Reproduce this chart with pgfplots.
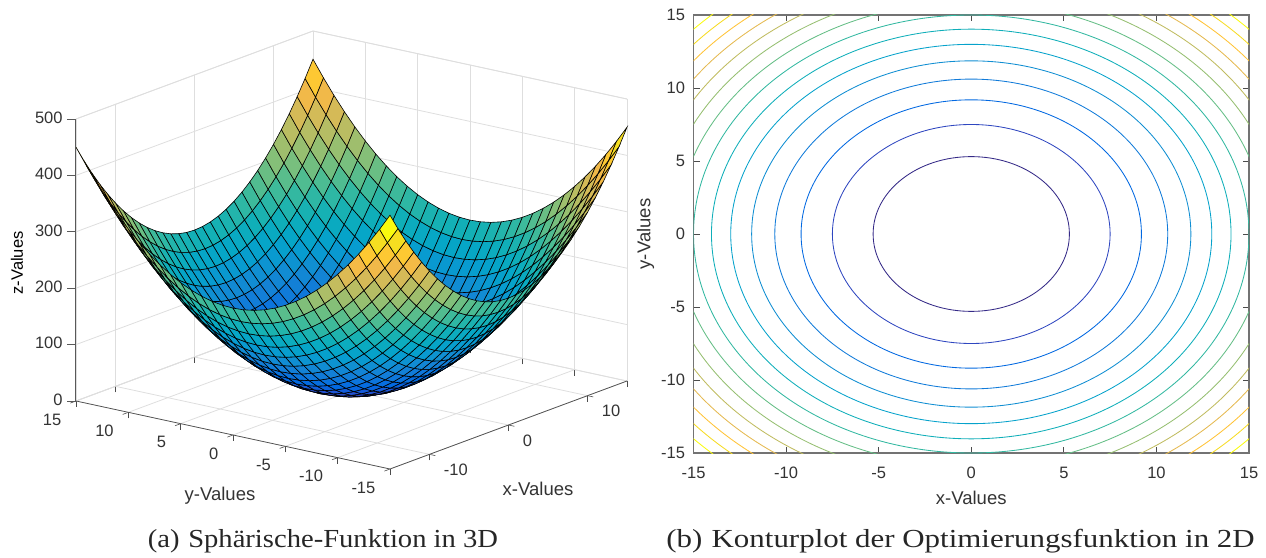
\documentclass[border=0pt]{standalone}
\usepackage{pgfplots}
\pgfplotsset{compat=1.18}
\usepackage{fontspec}
\setmainfont{Liberation Sans}
\newfontfamily\capfont{Liberation Serif}
\pgfplotsset{colormap={parula}{rgb=(.2081,.1663,.5292) rgb=(.2081,.2386,.6771) rgb=(.1253,.3242,.8303) rgb=(.0060,.4086,.8828) rgb=(.0498,.4586,.8641) rgb=(.0779,.5040,.8384) rgb=(.0641,.5570,.8240) rgb=(.0265,.6137,.8135) rgb=(.0228,.6535,.7768) rgb=(.0590,.6838,.7254) rgb=(.1453,.7098,.6646) rgb=(.2586,.7317,.5954) rgb=(.3953,.7459,.5244) rgb=(.5300,.7491,.4661) rgb=(.6473,.7456,.4188) rgb=(.7525,.7384,.3768) rgb=(.8507,.7299,.3360) rgb=(.9450,.7261,.2886) rgb=(.9990,.7653,.2164) rgb=(.9789,.8271,.1633) rgb=(.9589,.8949,.1132) rgb=(.9763,.9831,.0538)}}
\definecolor{c1}{rgb}{.2081,.1663,.5292}
\definecolor{c2}{rgb}{.183,.278,.754}
\definecolor{c3}{rgb}{.0060,.4086,.8828}
\definecolor{c4}{rgb}{.068,.481,.851}
\definecolor{c5}{rgb}{.0641,.5570,.8240}
\definecolor{c6}{rgb}{.023,.635,.797}
\definecolor{c7}{rgb}{.0590,.6838,.7254}
\definecolor{c8}{rgb}{.199,.721,.631}
\definecolor{c9}{rgb}{.3953,.7459,.5244}
\definecolor{c10}{rgb}{.590,.748,.442}
\definecolor{c11}{rgb}{.7525,.7384,.3768}
\definecolor{c12}{rgb}{.898,.7266,.314}
\definecolor{c13}{rgb}{.9990,.7653,.2164}
\definecolor{c14}{rgb}{.966,.859,.139}
\definecolor{c15}{rgb}{.9763,.9831,.0538}
\definecolor{txt}{gray}{.2}
\begin{document}
\begin{tikzpicture}[x=1pt,y=1pt]
\path[use as bounding box] (0,0) rectangle (1266,557);
\begin{axis}[
  at={(351.5pt,166pt)}, anchor=origin,
  x={(7.9pt,2.933pt)}, y={(-10.467pt,2.267pt)}, z={(0pt,0.564pt)},
  xmin=-15,xmax=15,ymin=-15,ymax=15,zmin=0,zmax=500,
  clip=false,
  font=\fontsize{16.5}{18}\selectfont,
  /pgf/number format/assume math mode=true,
  xtick={-10,0,10}, ytick={-15,-10,-5,0,5,10,15}, ztick={0,100,200,300,400,500},
  grid=major, grid style={black!13,line width=.8pt},
  axis line style={black!13,line width=.8pt},
  tick style={black!70,line width=.6pt},
  ztick style={draw=none},
  tick align=outside,
  tick pos=left,
  major tick length=6pt,
  ticklabel style={text=txt},
  xticklabel style={anchor=west,xshift=5pt,yshift=-14.3pt},
  yticklabel style={anchor=east,xshift=-5.5pt,yshift=-16.5pt},
  zticklabel style={anchor=east,xshift=-4pt},
  xlabel={x-Values}, ylabel={y-Values}, zlabel={z-Values},
  label style={text=txt,font=\fontsize{18.5}{20}\selectfont},
  xlabel style={at={(axis cs:-12.4,-27.18,0)},anchor=center,rotate=0},
  ylabel style={at={(axis cs:-28.74,-9.13,0)},anchor=center,rotate=0},
  every axis z label/.style={at={(axis cs:11.96,40.98,0)},anchor=center,rotate=90},
]
\addplot3[surf, shader=flat corner, draw=black, line width=.6pt, z buffer=sort, mesh/cols=31, point meta=z, point meta min=0, point meta max=450] coordinates {
(-15,-15,450)(-14,-15,421)(-13,-15,394)(-12,-15,369)(-11,-15,346)(-10,-15,325)(-9,-15,306)(-8,-15,289)(-7,-15,274)(-6,-15,261)(-5,-15,250)(-4,-15,241)(-3,-15,234)(-2,-15,229)(-1,-15,226)(0,-15,225)(1,-15,226)(2,-15,229)(3,-15,234)(4,-15,241)(5,-15,250)(6,-15,261)(7,-15,274)(8,-15,289)(9,-15,306)(10,-15,325)(11,-15,346)(12,-15,369)(13,-15,394)(14,-15,421)(15,-15,450)
(-15,-14,421)(-14,-14,392)(-13,-14,365)(-12,-14,340)(-11,-14,317)(-10,-14,296)(-9,-14,277)(-8,-14,260)(-7,-14,245)(-6,-14,232)(-5,-14,221)(-4,-14,212)(-3,-14,205)(-2,-14,200)(-1,-14,197)(0,-14,196)(1,-14,197)(2,-14,200)(3,-14,205)(4,-14,212)(5,-14,221)(6,-14,232)(7,-14,245)(8,-14,260)(9,-14,277)(10,-14,296)(11,-14,317)(12,-14,340)(13,-14,365)(14,-14,392)(15,-14,421)
(-15,-13,394)(-14,-13,365)(-13,-13,338)(-12,-13,313)(-11,-13,290)(-10,-13,269)(-9,-13,250)(-8,-13,233)(-7,-13,218)(-6,-13,205)(-5,-13,194)(-4,-13,185)(-3,-13,178)(-2,-13,173)(-1,-13,170)(0,-13,169)(1,-13,170)(2,-13,173)(3,-13,178)(4,-13,185)(5,-13,194)(6,-13,205)(7,-13,218)(8,-13,233)(9,-13,250)(10,-13,269)(11,-13,290)(12,-13,313)(13,-13,338)(14,-13,365)(15,-13,394)
(-15,-12,369)(-14,-12,340)(-13,-12,313)(-12,-12,288)(-11,-12,265)(-10,-12,244)(-9,-12,225)(-8,-12,208)(-7,-12,193)(-6,-12,180)(-5,-12,169)(-4,-12,160)(-3,-12,153)(-2,-12,148)(-1,-12,145)(0,-12,144)(1,-12,145)(2,-12,148)(3,-12,153)(4,-12,160)(5,-12,169)(6,-12,180)(7,-12,193)(8,-12,208)(9,-12,225)(10,-12,244)(11,-12,265)(12,-12,288)(13,-12,313)(14,-12,340)(15,-12,369)
(-15,-11,346)(-14,-11,317)(-13,-11,290)(-12,-11,265)(-11,-11,242)(-10,-11,221)(-9,-11,202)(-8,-11,185)(-7,-11,170)(-6,-11,157)(-5,-11,146)(-4,-11,137)(-3,-11,130)(-2,-11,125)(-1,-11,122)(0,-11,121)(1,-11,122)(2,-11,125)(3,-11,130)(4,-11,137)(5,-11,146)(6,-11,157)(7,-11,170)(8,-11,185)(9,-11,202)(10,-11,221)(11,-11,242)(12,-11,265)(13,-11,290)(14,-11,317)(15,-11,346)
(-15,-10,325)(-14,-10,296)(-13,-10,269)(-12,-10,244)(-11,-10,221)(-10,-10,200)(-9,-10,181)(-8,-10,164)(-7,-10,149)(-6,-10,136)(-5,-10,125)(-4,-10,116)(-3,-10,109)(-2,-10,104)(-1,-10,101)(0,-10,100)(1,-10,101)(2,-10,104)(3,-10,109)(4,-10,116)(5,-10,125)(6,-10,136)(7,-10,149)(8,-10,164)(9,-10,181)(10,-10,200)(11,-10,221)(12,-10,244)(13,-10,269)(14,-10,296)(15,-10,325)
(-15,-9,306)(-14,-9,277)(-13,-9,250)(-12,-9,225)(-11,-9,202)(-10,-9,181)(-9,-9,162)(-8,-9,145)(-7,-9,130)(-6,-9,117)(-5,-9,106)(-4,-9,97)(-3,-9,90)(-2,-9,85)(-1,-9,82)(0,-9,81)(1,-9,82)(2,-9,85)(3,-9,90)(4,-9,97)(5,-9,106)(6,-9,117)(7,-9,130)(8,-9,145)(9,-9,162)(10,-9,181)(11,-9,202)(12,-9,225)(13,-9,250)(14,-9,277)(15,-9,306)
(-15,-8,289)(-14,-8,260)(-13,-8,233)(-12,-8,208)(-11,-8,185)(-10,-8,164)(-9,-8,145)(-8,-8,128)(-7,-8,113)(-6,-8,100)(-5,-8,89)(-4,-8,80)(-3,-8,73)(-2,-8,68)(-1,-8,65)(0,-8,64)(1,-8,65)(2,-8,68)(3,-8,73)(4,-8,80)(5,-8,89)(6,-8,100)(7,-8,113)(8,-8,128)(9,-8,145)(10,-8,164)(11,-8,185)(12,-8,208)(13,-8,233)(14,-8,260)(15,-8,289)
(-15,-7,274)(-14,-7,245)(-13,-7,218)(-12,-7,193)(-11,-7,170)(-10,-7,149)(-9,-7,130)(-8,-7,113)(-7,-7,98)(-6,-7,85)(-5,-7,74)(-4,-7,65)(-3,-7,58)(-2,-7,53)(-1,-7,50)(0,-7,49)(1,-7,50)(2,-7,53)(3,-7,58)(4,-7,65)(5,-7,74)(6,-7,85)(7,-7,98)(8,-7,113)(9,-7,130)(10,-7,149)(11,-7,170)(12,-7,193)(13,-7,218)(14,-7,245)(15,-7,274)
(-15,-6,261)(-14,-6,232)(-13,-6,205)(-12,-6,180)(-11,-6,157)(-10,-6,136)(-9,-6,117)(-8,-6,100)(-7,-6,85)(-6,-6,72)(-5,-6,61)(-4,-6,52)(-3,-6,45)(-2,-6,40)(-1,-6,37)(0,-6,36)(1,-6,37)(2,-6,40)(3,-6,45)(4,-6,52)(5,-6,61)(6,-6,72)(7,-6,85)(8,-6,100)(9,-6,117)(10,-6,136)(11,-6,157)(12,-6,180)(13,-6,205)(14,-6,232)(15,-6,261)
(-15,-5,250)(-14,-5,221)(-13,-5,194)(-12,-5,169)(-11,-5,146)(-10,-5,125)(-9,-5,106)(-8,-5,89)(-7,-5,74)(-6,-5,61)(-5,-5,50)(-4,-5,41)(-3,-5,34)(-2,-5,29)(-1,-5,26)(0,-5,25)(1,-5,26)(2,-5,29)(3,-5,34)(4,-5,41)(5,-5,50)(6,-5,61)(7,-5,74)(8,-5,89)(9,-5,106)(10,-5,125)(11,-5,146)(12,-5,169)(13,-5,194)(14,-5,221)(15,-5,250)
(-15,-4,241)(-14,-4,212)(-13,-4,185)(-12,-4,160)(-11,-4,137)(-10,-4,116)(-9,-4,97)(-8,-4,80)(-7,-4,65)(-6,-4,52)(-5,-4,41)(-4,-4,32)(-3,-4,25)(-2,-4,20)(-1,-4,17)(0,-4,16)(1,-4,17)(2,-4,20)(3,-4,25)(4,-4,32)(5,-4,41)(6,-4,52)(7,-4,65)(8,-4,80)(9,-4,97)(10,-4,116)(11,-4,137)(12,-4,160)(13,-4,185)(14,-4,212)(15,-4,241)
(-15,-3,234)(-14,-3,205)(-13,-3,178)(-12,-3,153)(-11,-3,130)(-10,-3,109)(-9,-3,90)(-8,-3,73)(-7,-3,58)(-6,-3,45)(-5,-3,34)(-4,-3,25)(-3,-3,18)(-2,-3,13)(-1,-3,10)(0,-3,9)(1,-3,10)(2,-3,13)(3,-3,18)(4,-3,25)(5,-3,34)(6,-3,45)(7,-3,58)(8,-3,73)(9,-3,90)(10,-3,109)(11,-3,130)(12,-3,153)(13,-3,178)(14,-3,205)(15,-3,234)
(-15,-2,229)(-14,-2,200)(-13,-2,173)(-12,-2,148)(-11,-2,125)(-10,-2,104)(-9,-2,85)(-8,-2,68)(-7,-2,53)(-6,-2,40)(-5,-2,29)(-4,-2,20)(-3,-2,13)(-2,-2,8)(-1,-2,5)(0,-2,4)(1,-2,5)(2,-2,8)(3,-2,13)(4,-2,20)(5,-2,29)(6,-2,40)(7,-2,53)(8,-2,68)(9,-2,85)(10,-2,104)(11,-2,125)(12,-2,148)(13,-2,173)(14,-2,200)(15,-2,229)
(-15,-1,226)(-14,-1,197)(-13,-1,170)(-12,-1,145)(-11,-1,122)(-10,-1,101)(-9,-1,82)(-8,-1,65)(-7,-1,50)(-6,-1,37)(-5,-1,26)(-4,-1,17)(-3,-1,10)(-2,-1,5)(-1,-1,2)(0,-1,1)(1,-1,2)(2,-1,5)(3,-1,10)(4,-1,17)(5,-1,26)(6,-1,37)(7,-1,50)(8,-1,65)(9,-1,82)(10,-1,101)(11,-1,122)(12,-1,145)(13,-1,170)(14,-1,197)(15,-1,226)
(-15,0,225)(-14,0,196)(-13,0,169)(-12,0,144)(-11,0,121)(-10,0,100)(-9,0,81)(-8,0,64)(-7,0,49)(-6,0,36)(-5,0,25)(-4,0,16)(-3,0,9)(-2,0,4)(-1,0,1)(0,0,0)(1,0,1)(2,0,4)(3,0,9)(4,0,16)(5,0,25)(6,0,36)(7,0,49)(8,0,64)(9,0,81)(10,0,100)(11,0,121)(12,0,144)(13,0,169)(14,0,196)(15,0,225)
(-15,1,226)(-14,1,197)(-13,1,170)(-12,1,145)(-11,1,122)(-10,1,101)(-9,1,82)(-8,1,65)(-7,1,50)(-6,1,37)(-5,1,26)(-4,1,17)(-3,1,10)(-2,1,5)(-1,1,2)(0,1,1)(1,1,2)(2,1,5)(3,1,10)(4,1,17)(5,1,26)(6,1,37)(7,1,50)(8,1,65)(9,1,82)(10,1,101)(11,1,122)(12,1,145)(13,1,170)(14,1,197)(15,1,226)
(-15,2,229)(-14,2,200)(-13,2,173)(-12,2,148)(-11,2,125)(-10,2,104)(-9,2,85)(-8,2,68)(-7,2,53)(-6,2,40)(-5,2,29)(-4,2,20)(-3,2,13)(-2,2,8)(-1,2,5)(0,2,4)(1,2,5)(2,2,8)(3,2,13)(4,2,20)(5,2,29)(6,2,40)(7,2,53)(8,2,68)(9,2,85)(10,2,104)(11,2,125)(12,2,148)(13,2,173)(14,2,200)(15,2,229)
(-15,3,234)(-14,3,205)(-13,3,178)(-12,3,153)(-11,3,130)(-10,3,109)(-9,3,90)(-8,3,73)(-7,3,58)(-6,3,45)(-5,3,34)(-4,3,25)(-3,3,18)(-2,3,13)(-1,3,10)(0,3,9)(1,3,10)(2,3,13)(3,3,18)(4,3,25)(5,3,34)(6,3,45)(7,3,58)(8,3,73)(9,3,90)(10,3,109)(11,3,130)(12,3,153)(13,3,178)(14,3,205)(15,3,234)
(-15,4,241)(-14,4,212)(-13,4,185)(-12,4,160)(-11,4,137)(-10,4,116)(-9,4,97)(-8,4,80)(-7,4,65)(-6,4,52)(-5,4,41)(-4,4,32)(-3,4,25)(-2,4,20)(-1,4,17)(0,4,16)(1,4,17)(2,4,20)(3,4,25)(4,4,32)(5,4,41)(6,4,52)(7,4,65)(8,4,80)(9,4,97)(10,4,116)(11,4,137)(12,4,160)(13,4,185)(14,4,212)(15,4,241)
(-15,5,250)(-14,5,221)(-13,5,194)(-12,5,169)(-11,5,146)(-10,5,125)(-9,5,106)(-8,5,89)(-7,5,74)(-6,5,61)(-5,5,50)(-4,5,41)(-3,5,34)(-2,5,29)(-1,5,26)(0,5,25)(1,5,26)(2,5,29)(3,5,34)(4,5,41)(5,5,50)(6,5,61)(7,5,74)(8,5,89)(9,5,106)(10,5,125)(11,5,146)(12,5,169)(13,5,194)(14,5,221)(15,5,250)
(-15,6,261)(-14,6,232)(-13,6,205)(-12,6,180)(-11,6,157)(-10,6,136)(-9,6,117)(-8,6,100)(-7,6,85)(-6,6,72)(-5,6,61)(-4,6,52)(-3,6,45)(-2,6,40)(-1,6,37)(0,6,36)(1,6,37)(2,6,40)(3,6,45)(4,6,52)(5,6,61)(6,6,72)(7,6,85)(8,6,100)(9,6,117)(10,6,136)(11,6,157)(12,6,180)(13,6,205)(14,6,232)(15,6,261)
(-15,7,274)(-14,7,245)(-13,7,218)(-12,7,193)(-11,7,170)(-10,7,149)(-9,7,130)(-8,7,113)(-7,7,98)(-6,7,85)(-5,7,74)(-4,7,65)(-3,7,58)(-2,7,53)(-1,7,50)(0,7,49)(1,7,50)(2,7,53)(3,7,58)(4,7,65)(5,7,74)(6,7,85)(7,7,98)(8,7,113)(9,7,130)(10,7,149)(11,7,170)(12,7,193)(13,7,218)(14,7,245)(15,7,274)
(-15,8,289)(-14,8,260)(-13,8,233)(-12,8,208)(-11,8,185)(-10,8,164)(-9,8,145)(-8,8,128)(-7,8,113)(-6,8,100)(-5,8,89)(-4,8,80)(-3,8,73)(-2,8,68)(-1,8,65)(0,8,64)(1,8,65)(2,8,68)(3,8,73)(4,8,80)(5,8,89)(6,8,100)(7,8,113)(8,8,128)(9,8,145)(10,8,164)(11,8,185)(12,8,208)(13,8,233)(14,8,260)(15,8,289)
(-15,9,306)(-14,9,277)(-13,9,250)(-12,9,225)(-11,9,202)(-10,9,181)(-9,9,162)(-8,9,145)(-7,9,130)(-6,9,117)(-5,9,106)(-4,9,97)(-3,9,90)(-2,9,85)(-1,9,82)(0,9,81)(1,9,82)(2,9,85)(3,9,90)(4,9,97)(5,9,106)(6,9,117)(7,9,130)(8,9,145)(9,9,162)(10,9,181)(11,9,202)(12,9,225)(13,9,250)(14,9,277)(15,9,306)
(-15,10,325)(-14,10,296)(-13,10,269)(-12,10,244)(-11,10,221)(-10,10,200)(-9,10,181)(-8,10,164)(-7,10,149)(-6,10,136)(-5,10,125)(-4,10,116)(-3,10,109)(-2,10,104)(-1,10,101)(0,10,100)(1,10,101)(2,10,104)(3,10,109)(4,10,116)(5,10,125)(6,10,136)(7,10,149)(8,10,164)(9,10,181)(10,10,200)(11,10,221)(12,10,244)(13,10,269)(14,10,296)(15,10,325)
(-15,11,346)(-14,11,317)(-13,11,290)(-12,11,265)(-11,11,242)(-10,11,221)(-9,11,202)(-8,11,185)(-7,11,170)(-6,11,157)(-5,11,146)(-4,11,137)(-3,11,130)(-2,11,125)(-1,11,122)(0,11,121)(1,11,122)(2,11,125)(3,11,130)(4,11,137)(5,11,146)(6,11,157)(7,11,170)(8,11,185)(9,11,202)(10,11,221)(11,11,242)(12,11,265)(13,11,290)(14,11,317)(15,11,346)
(-15,12,369)(-14,12,340)(-13,12,313)(-12,12,288)(-11,12,265)(-10,12,244)(-9,12,225)(-8,12,208)(-7,12,193)(-6,12,180)(-5,12,169)(-4,12,160)(-3,12,153)(-2,12,148)(-1,12,145)(0,12,144)(1,12,145)(2,12,148)(3,12,153)(4,12,160)(5,12,169)(6,12,180)(7,12,193)(8,12,208)(9,12,225)(10,12,244)(11,12,265)(12,12,288)(13,12,313)(14,12,340)(15,12,369)
(-15,13,394)(-14,13,365)(-13,13,338)(-12,13,313)(-11,13,290)(-10,13,269)(-9,13,250)(-8,13,233)(-7,13,218)(-6,13,205)(-5,13,194)(-4,13,185)(-3,13,178)(-2,13,173)(-1,13,170)(0,13,169)(1,13,170)(2,13,173)(3,13,178)(4,13,185)(5,13,194)(6,13,205)(7,13,218)(8,13,233)(9,13,250)(10,13,269)(11,13,290)(12,13,313)(13,13,338)(14,13,365)(15,13,394)
(-15,14,421)(-14,14,392)(-13,14,365)(-12,14,340)(-11,14,317)(-10,14,296)(-9,14,277)(-8,14,260)(-7,14,245)(-6,14,232)(-5,14,221)(-4,14,212)(-3,14,205)(-2,14,200)(-1,14,197)(0,14,196)(1,14,197)(2,14,200)(3,14,205)(4,14,212)(5,14,221)(6,14,232)(7,14,245)(8,14,260)(9,14,277)(10,14,296)(11,14,317)(12,14,340)(13,14,365)(14,14,392)(15,14,421)
(-15,15,450)(-14,15,421)(-13,15,394)(-12,15,369)(-11,15,346)(-10,15,325)(-9,15,306)(-8,15,289)(-7,15,274)(-6,15,261)(-5,15,250)(-4,15,241)(-3,15,234)(-2,15,229)(-1,15,226)(0,15,225)(1,15,226)(2,15,229)(3,15,234)(4,15,241)(5,15,250)(6,15,261)(7,15,274)(8,15,289)(9,15,306)(10,15,325)(11,15,346)(12,15,369)(13,15,394)(14,15,421)(15,15,450)
};
\draw[black!70,line width=.7pt] (axis cs:15,-15,0)--(axis cs:-15,-15,0)--(axis cs:-15,15,0);
\draw[black!65,line width=1pt] (axis cs:-15,15,0)--(axis cs:-15,15,500);
\draw[black!65,line width=.6pt] (axis cs:-15,15,0)--++(-9pt,0pt);
\draw[black!65,line width=.6pt] (axis cs:-15,15,100)--++(-9pt,0pt);
\draw[black!65,line width=.6pt] (axis cs:-15,15,200)--++(-9pt,0pt);
\draw[black!65,line width=.6pt] (axis cs:-15,15,300)--++(-9pt,0pt);
\draw[black!65,line width=.6pt] (axis cs:-15,15,400)--++(-9pt,0pt);
\draw[black!65,line width=.6pt] (axis cs:-15,15,500)--++(-9pt,0pt);
\end{axis}
\begin{axis}[
  at={(693.5pt,104pt)}, anchor=south west,
  width=555.5pt, height=438pt, scale only axis,
  xmin=-15,xmax=15,ymin=-15,ymax=15,
  font=\fontsize{16.5}{18}\selectfont,
  /pgf/number format/assume math mode=true,
  xtick={-15,-10,-5,0,5,10,15}, ytick={-15,-10,-5,0,5,10,15},
  axis line style={black!55,line width=1.2pt},
  tick style={black!70,line width=.7pt},
  tick align=inside,
  major tick length=6pt,
  ticklabel style={text=txt},
  xticklabel style={yshift=-10.5pt},
  yticklabel style={xshift=-5pt},
  xlabel={x-Values}, ylabel={y-Values},
  label style={text=txt,font=\fontsize{18.5}{20}\selectfont},
  xlabel style={yshift=-6pt},
  ylabel style={yshift=0pt},
  ct/.style={smooth cycle,tension=.62,line width=.85pt,no marks},
]
\addplot[c1,ct] coordinates {(5.30,0)(4.90,2.03)(3.75,3.75)(2.03,4.90)(0,5.30)(-2.03,4.90)(-3.75,3.75)(-4.90,2.03)(-5.30,0)(-4.90,-2.03)(-3.75,-3.75)(-2.03,-4.90)(0,-5.30)(2.03,-4.90)(3.75,-3.75)(4.90,-2.03)};
\addplot[c2,ct] coordinates {(7.50,0)(6.93,2.87)(5.30,5.30)(2.87,6.93)(0,7.50)(-2.87,6.93)(-5.30,5.30)(-6.93,2.87)(-7.50,0)(-6.93,-2.87)(-5.30,-5.30)(-2.87,-6.93)(0,-7.50)(2.87,-6.93)(5.30,-5.30)(6.93,-2.87)};
\addplot[c3,ct] coordinates {(9.19,0)(8.49,3.52)(6.50,6.50)(3.52,8.49)(0,9.19)(-3.52,8.49)(-6.50,6.50)(-8.49,3.52)(-9.19,0)(-8.49,-3.52)(-6.50,-6.50)(-3.52,-8.49)(0,-9.19)(3.52,-8.49)(6.50,-6.50)(8.49,-3.52)};
\addplot[c4,ct] coordinates {(10.61,0)(9.80,4.06)(7.50,7.50)(4.06,9.80)(0,10.61)(-4.06,9.80)(-7.50,7.50)(-9.80,4.06)(-10.61,0)(-9.80,-4.06)(-7.50,-7.50)(-4.06,-9.80)(0,-10.61)(4.06,-9.80)(7.50,-7.50)(9.80,-4.06)};
\addplot[c5,ct] coordinates {(11.86,0)(10.96,4.54)(8.39,8.39)(4.54,10.96)(0,11.86)(-4.54,10.96)(-8.39,8.39)(-10.96,4.54)(-11.86,0)(-10.96,-4.54)(-8.39,-8.39)(-4.54,-10.96)(0,-11.86)(4.54,-10.96)(8.39,-8.39)(10.96,-4.54)};
\addplot[c6,ct] coordinates {(12.99,0)(12.00,4.97)(9.19,9.19)(4.97,12.00)(0,12.99)(-4.97,12.00)(-9.19,9.19)(-12.00,4.97)(-12.99,0)(-12.00,-4.97)(-9.19,-9.19)(-4.97,-12.00)(0,-12.99)(4.97,-12.00)(9.19,-9.19)(12.00,-4.97)};
\addplot[c7,ct] coordinates {(14.03,0)(12.96,5.37)(9.92,9.92)(5.37,12.96)(0,14.03)(-5.37,12.96)(-9.92,9.92)(-12.96,5.37)(-14.03,0)(-12.96,-5.37)(-9.92,-9.92)(-5.37,-12.96)(0,-14.03)(5.37,-12.96)(9.92,-9.92)(12.96,-5.37)};
\addplot[c8,ct] coordinates {(15,0)(13.86,5.74)(10.61,10.61)(5.74,13.86)(0,15)(-5.74,13.86)(-10.61,10.61)(-13.86,5.74)(-15,0)(-13.86,-5.74)(-10.61,-10.61)(-5.74,-13.86)(0,-15)(5.74,-13.86)(10.61,-10.61)(13.86,-5.74)};
\addplot[c9,ct] coordinates {(15.91,0)(14.70,6.09)(11.25,11.25)(6.09,14.70)(0,15.91)(-6.09,14.70)(-11.25,11.25)(-14.70,6.09)(-15.91,0)(-14.70,-6.09)(-11.25,-11.25)(-6.09,-14.70)(0,-15.91)(6.09,-14.70)(11.25,-11.25)(14.70,-6.09)};
\addplot[c10,ct] coordinates {(16.77,0)(15.50,6.42)(11.86,11.86)(6.42,15.50)(0,16.77)(-6.42,15.50)(-11.86,11.86)(-15.50,6.42)(-16.77,0)(-15.50,-6.42)(-11.86,-11.86)(-6.42,-15.50)(0,-16.77)(6.42,-15.50)(11.86,-11.86)(15.50,-6.42)};
\addplot[c11,ct] coordinates {(17.59,0)(16.25,6.73)(12.44,12.44)(6.73,16.25)(0,17.59)(-6.73,16.25)(-12.44,12.44)(-16.25,6.73)(-17.59,0)(-16.25,-6.73)(-12.44,-12.44)(-6.73,-16.25)(0,-17.59)(6.73,-16.25)(12.44,-12.44)(16.25,-6.73)};
\addplot[c12,ct] coordinates {(18.37,0)(16.97,7.03)(12.99,12.99)(7.03,16.97)(0,18.37)(-7.03,16.97)(-12.99,12.99)(-16.97,7.03)(-18.37,0)(-16.97,-7.03)(-12.99,-12.99)(-7.03,-16.97)(0,-18.37)(7.03,-16.97)(12.99,-12.99)(16.97,-7.03)};
\addplot[c13,ct] coordinates {(19.12,0)(17.67,7.32)(13.52,13.52)(7.32,17.67)(0,19.12)(-7.32,17.67)(-13.52,13.52)(-17.67,7.32)(-19.12,0)(-17.67,-7.32)(-13.52,-13.52)(-7.32,-17.67)(0,-19.12)(7.32,-17.67)(13.52,-13.52)(17.67,-7.32)};
\addplot[c14,ct] coordinates {(19.84,0)(18.33,7.59)(14.03,14.03)(7.59,18.33)(0,19.84)(-7.59,18.33)(-14.03,14.03)(-18.33,7.59)(-19.84,0)(-18.33,-7.59)(-14.03,-14.03)(-7.59,-18.33)(0,-19.84)(7.59,-18.33)(14.03,-14.03)(18.33,-7.59)};
\addplot[c15,ct] coordinates {(20.54,0)(18.98,7.86)(14.52,14.52)(7.86,18.98)(0,20.54)(-7.86,18.98)(-14.52,14.52)(-18.98,7.86)(-20.54,0)(-18.98,-7.86)(-14.52,-14.52)(-7.86,-18.98)(0,-20.54)(7.86,-18.98)(14.52,-14.52)(18.98,-7.86)};
\end{axis}
\node[font=\capfont\fontsize{26}{30}\selectfont,text=black!85] at (323,16) {\scalebox{1.10}[1]{(a)\hspace{0.3em}Sphärische-Funktion in 3D}};
\node[font=\capfont\fontsize{26}{30}\selectfont,text=black!85] at (960.5,16) {\scalebox{1.19}[1]{(b)\hspace{0.3em}Konturplot der Optimierungsfunktion in 2D}};
\end{tikzpicture}
\end{document}
